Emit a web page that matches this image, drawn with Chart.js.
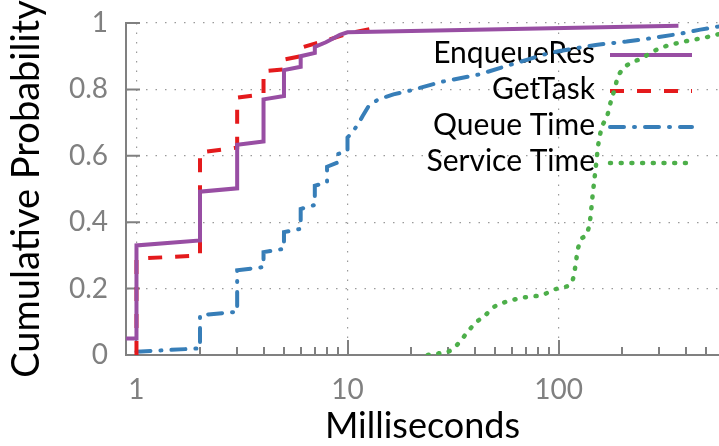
<!DOCTYPE html>
<html>
<head>
<meta charset="utf-8">
<script src="https://cdn.jsdelivr.net/npm/chart.js@4.4.1/dist/chart.umd.min.js"></script>
<style>
  html, body { margin: 0; padding: 0; background: #ffffff; }
  #wrap { width: 719px; height: 446px; }
</style>
</head>
<body>
<div id="wrap"><canvas id="cdf" width="719" height="446"></canvas></div>
<script>
// Series names, in key order
const seriesNames = ['EnqueueRes', 'GetTask', 'Queue Time', 'Service Time'];

// CDF samples: [milliseconds, cumulative probability]
const enqueueRes = [[0.85, 0.05], [1, 0.05], [1, 0.33], [2, 0.345], [2, 0.492], [3, 0.502], [3, 0.633],
  [4, 0.643], [4, 0.77], [5, 0.78], [5, 0.858], [6, 0.868], [6, 0.9], [7, 0.91], [7, 0.928],
  [7.9, 0.942], [9.2, 0.964], [10, 0.972], [370, 0.992]];

const getTask = [[1, 0], [1, 0.29], [2, 0.30], [2, 0.61], [3, 0.625], [3, 0.775], [4, 0.785], [4, 0.855],
  [5, 0.86], [5, 0.89], [6, 0.9], [6, 0.925], [7, 0.938], [8, 0.948], [10, 0.968], [14, 0.987]];

const queueTime = [[1, 0.01], [2, 0.02], [2, 0.12], [3, 0.13], [3, 0.255], [4, 0.265], [4, 0.31], [5, 0.32],
  [5, 0.37], [6, 0.38], [6, 0.44], [7, 0.452], [7, 0.51], [8, 0.52], [8, 0.567], [9, 0.58], [9, 0.605],
  [10, 0.615], [10, 0.655], [10.6, 0.673], [11.3, 0.698], [11.8, 0.72], [12.6, 0.75], [14, 0.77],
  [16.5, 0.785], [20, 0.797], [28, 0.823], [42, 0.845], [55, 0.868], [70, 0.888], [85, 0.905],
  [100, 0.915], [150, 0.934], [210, 0.944], [280, 0.955], [380, 0.968], [470, 0.98], [580, 0.99]];

const serviceTime = [[24, 0], [27, 0.005], [30, 0.01], [33, 0.03], [38, 0.078], [41, 0.1], [45, 0.12],
  [49, 0.143], [54, 0.156], [61, 0.166], [68, 0.173], [77, 0.177], [85, 0.182], [94, 0.196], [105, 0.204],
  [116, 0.221], [119, 0.251], [121, 0.281], [123, 0.313], [127, 0.344], [137, 0.37], [141, 0.405],
  [143, 0.44], [145, 0.48], [148, 0.53], [151, 0.58], [154, 0.63], [160, 0.683], [170, 0.72], [178, 0.77],
  [185, 0.803], [190, 0.833], [201, 0.86], [220, 0.88], [248, 0.893], [271, 0.909], [303, 0.924],
  [337, 0.934], [377, 0.941], [428, 0.949], [477, 0.954], [532, 0.961], [580, 0.967]];

// Axis ticks
const xTickLabels = [1, 10, 100];
const xMinorTicks = [2, 3, 4, 5, 6, 7, 8, 9, 20, 30, 40, 50, 60, 70, 80, 90, 200, 300, 400, 500];
const yTicks = [0, 0.2, 0.4, 0.6, 0.8, 1];

const FONT = 'Lato, "Open Sans", "DejaVu Sans", sans-serif';
const AXIS = '#808080';
const GRID = '#9a9a9a';
const CLEAR = 'rgba(0,0,0,0)';

const toPoints = arr => arr.map(([x, y]) => ({ x, y }));
const allXTicks = xTickLabels.concat(xMinorTicks).sort((a, b) => a - b);

// Fixed axis box sizes; labels may overhang the frame without pushing it
const fixBox = (axis, size) => s => {
  if (axis === 'x') s.height = size; else s.width = size;
  s.paddingTop = 0; s.paddingBottom = 0; s.paddingLeft = 0; s.paddingRight = 0;
};

// Tick marks drawn on the inside of the frame
const innerTicks = {
  id: 'innerTicks',
  beforeDatasetsDraw(chart) {
    const { ctx, chartArea: { left, bottom }, scales: { x, y } } = chart;
    ctx.save();
    ctx.strokeStyle = AXIS;
    ctx.lineWidth = 2;
    ctx.beginPath();
    for (const v of yTicks) {
      const py = y.getPixelForValue(v);
      ctx.moveTo(left, py);
      ctx.lineTo(left + 14, py);
    }
    for (const t of x.ticks) {
      const px = Math.round(x.getPixelForValue(t.value));
      const len = xTickLabels.includes(t.value) ? 15 : 8;
      ctx.moveTo(px, bottom);
      ctx.lineTo(px, bottom - len);
    }
    ctx.stroke();
    ctx.restore();
  }
};

// Key inside the plot: right-aligned names with the line sample to their right
const keyPlugin = {
  id: 'key',
  beforeDatasetsDraw(chart) {
    const { ctx } = chart;
    const textRight = 595, lineFrom = 610, lineTo = 692, top = 55, step = 36;
    ctx.save();
    ctx.font = '30px ' + FONT;
    ctx.textAlign = 'right';
    ctx.textBaseline = 'middle';
    chart.data.datasets.forEach((ds, i) => {
      const yy = top + i * step;
      ctx.fillStyle = '#000000';
      ctx.fillText(ds.label, textRight, yy - 1.5);
      ctx.strokeStyle = ds.borderColor;
      ctx.lineWidth = ds.borderWidth;
      ctx.lineCap = ds.borderCapStyle || 'butt';
      ctx.setLineDash(ds.borderDash || []);
      ctx.beginPath();
      ctx.moveTo(lineFrom, yy);
      ctx.lineTo(lineTo, yy);
      ctx.stroke();
    });
    ctx.restore();
  }
};

new Chart(document.getElementById('cdf'), {
  type: 'line',
  data: {
    datasets: [
      { label: seriesNames[0], data: toPoints(enqueueRes), borderColor: '#984ea3', borderWidth: 4,
        tension: 0, pointRadius: 0 },
      { label: seriesNames[1], data: toPoints(getTask), borderColor: '#e41a1c', borderWidth: 4,
        borderDash: [14, 13], tension: 0, pointRadius: 0 },
      { label: seriesNames[2], data: toPoints(queueTime), borderColor: '#377eb8', borderWidth: 4,
        borderDash: [14, 10, 1, 10], borderCapStyle: 'round', tension: 0, pointRadius: 0 },
      { label: seriesNames[3], data: toPoints(serviceTime), borderColor: '#4daf4a', borderWidth: 4.5,
        borderDash: [1, 9.7], borderCapStyle: 'round', cubicInterpolationMode: 'monotone', pointRadius: 0 }
    ]
  },
  options: {
    responsive: false,
    animation: false,
    devicePixelRatio: 1,
    layout: { padding: { top: 23, right: 0, bottom: 0, left: 0 } },
    plugins: { legend: { display: false }, tooltip: { enabled: false } },
    scales: {
      x: {
        type: 'logarithmic',
        min: 0.892,
        max: 576,
        afterBuildTicks: s => { s.ticks = allXTicks.map(v => ({ value: v, major: xTickLabels.includes(v) })); },
        afterFit: fixBox('x', 91),
        ticks: {
          autoSkip: false, maxRotation: 0, minRotation: 0, padding: 18, color: AXIS,
          font: { family: FONT, size: 28 },
          callback: v => (xTickLabels.includes(v) ? String(v) : '')
        },
        grid: {
          drawTicks: false, lineWidth: 1.2,
          color: c => (c.tick && xTickLabels.includes(c.tick.value) ? GRID : CLEAR)
        },
        border: { display: true, color: AXIS, width: 2, dash: [1.5, 8] },
        title: {
          display: true, text: 'Milliseconds', color: '#000000',
          font: { family: FONT, size: 36, lineHeight: 1 }, padding: { top: 0, bottom: 2 }
        }
      },
      y: {
        min: 0,
        max: 1,
        afterBuildTicks: s => { s.ticks = yTicks.map(v => ({ value: v })); },
        afterFit: fixBox('y', 126),
        ticks: {
          padding: 18, color: AXIS, font: { family: FONT, size: 28 },
          callback: v => (v === 0 ? '0' : v === 1 ? '1' : v.toFixed(1))
        },
        grid: {
          drawTicks: false, lineWidth: 1.2,
          color: c => (c.tick && c.tick.value > 0 ? GRID : CLEAR)
        },
        border: { display: true, color: AXIS, width: 2, dash: [1.5, 8] },
        title: {
          display: true, text: 'Cumulative Probability', color: '#000000',
          font: { family: FONT, size: 38, lineHeight: 1 }, padding: { top: 8, bottom: 0 }
        }
      }
    }
  },
  plugins: [innerTicks, keyPlugin]
});
</script>
</body>
</html>
